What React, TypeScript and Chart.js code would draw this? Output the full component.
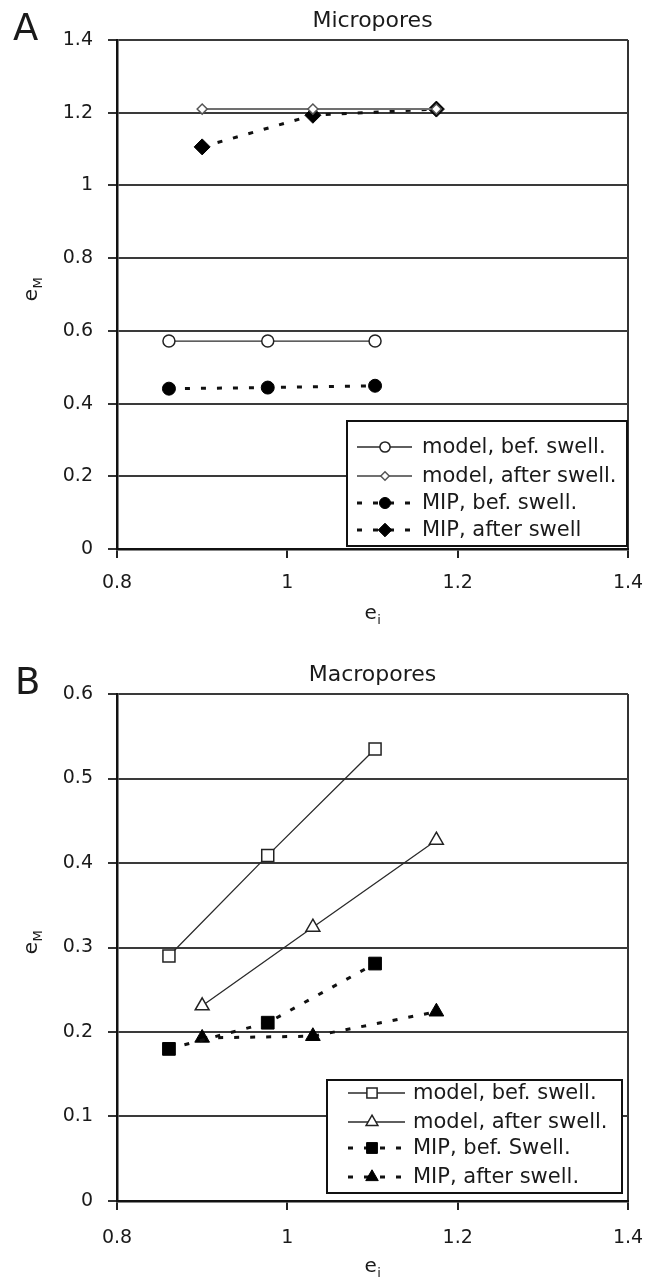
import React, { useEffect, useRef } from "react";
import { Chart, registerables } from "chart.js";
import { drawPoint } from "chart.js/helpers";

Chart.register(...registerables);

// ---------- data ----------
const xTicks = [0.8, 1, 1.2, 1.4];
const yTicksA = [0, 0.2, 0.4, 0.6, 0.8, 1, 1.2, 1.4];
const yTicksB = [0, 0.1, 0.2, 0.3, 0.4, 0.5, 0.6];

const eiBefore = [0.861, 0.977, 1.103];
const eiAfter = [0.9, 1.03, 1.175];

const microModelBefore = [0.572, 0.572, 0.572];
const microModelAfter = [1.21, 1.21, 1.21];
const microMipBefore = [0.441, 0.444, 0.449];
const microMipAfter = [1.106, 1.193, 1.21];

const macroModelBefore = [0.29, 0.409, 0.535];
const macroModelAfter = [0.231, 0.324, 0.427];
const macroMipBefore = [0.18, 0.211, 0.281];
const macroMipAfter = [0.193, 0.195, 0.224];

const labelsA = ["model, bef. swell.", "model, after swell.", "MIP, bef. swell.", "MIP, after swell"];
const labelsB = ["model, bef. swell.", "model, after swell.", "MIP, bef. Swell.", "MIP, after swell."];

// ---------- styling ----------
const FONT = "'DejaVu Sans', Verdana, sans-serif";
const W = 648;
const H = 641;

function pts(xs: number[], ys: number[]) {
  return xs.map((x, i) => ({ x, y: ys[i] }));
}

const solidLine = { borderColor: "#2a2a2a", borderWidth: 1.3, borderDash: [] as number[] };
const grayLine = { borderColor: "#707070", borderWidth: 2, borderDash: [] as number[] };
const dashLine = { borderColor: "#111", borderWidth: 3, borderDash: [5, 11] };

function marker(style: string, radius: number, fill: string, stroke: string, bw: number) {
  return {
    pointStyle: style,
    pointRadius: radius,
    pointHoverRadius: radius,
    pointBackgroundColor: fill,
    pointBorderColor: stroke,
    pointBorderWidth: bw,
  };
}

type Deco = {
  letter: string;
  letterX: number;
  letterY: number;
  title: string;
  titleY: number;
  xTitleY: number;
  yTitleX: number;
  legend: {
    left: number;
    top: number;
    width: number;
    height: number;
    rows: number[];
    lineFrom: number;
    lineTo: number;
    markerX: number;
    textX: number;
  };
};

function drawSub(ctx: CanvasRenderingContext2D, main: string, sub: string, cx: number, baseline: number) {
  ctx.textAlign = "left";
  ctx.textBaseline = "alphabetic";
  ctx.font = `20px ${FONT}`;
  const w1 = ctx.measureText(main).width;
  ctx.font = `13px ${FONT}`;
  const w2 = ctx.measureText(sub).width;
  const x0 = cx - (w1 + w2) / 2;
  ctx.font = `20px ${FONT}`;
  ctx.fillText(main, x0, baseline);
  ctx.font = `13px ${FONT}`;
  ctx.fillText(sub, x0 + w1 + 0.5, baseline + 5);
}

function decoPlugin(d: Deco) {
  return {
    id: "deco",
    afterDraw(chart: any) {
      const ctx: CanvasRenderingContext2D = chart.ctx;
      const ca = chart.chartArea;
      const cx = (ca.left + ca.right) / 2;
      ctx.save();
      ctx.fillStyle = "#1a1a1a";
      // panel letter
      ctx.font = `37px ${FONT}`;
      ctx.textAlign = "left";
      ctx.textBaseline = "alphabetic";
      ctx.fillText(d.letter, d.letterX, d.letterY);
      // title
      ctx.font = `22px ${FONT}`;
      ctx.textAlign = "center";
      ctx.textBaseline = "middle";
      ctx.fillText(d.title, cx, d.titleY);
      // axis titles
      drawSub(ctx, "e", "i", cx, d.xTitleY);
      ctx.save();
      ctx.translate(d.yTitleX, (ca.top + ca.bottom) / 2 - 5);
      ctx.rotate(-Math.PI / 2);
      drawSub(ctx, "e", "M", 0, 0);
      ctx.restore();

      // legend
      const L = d.legend;
      ctx.setLineDash([]);
      ctx.fillStyle = "#fff";
      ctx.fillRect(L.left, L.top, L.width, L.height);
      ctx.strokeStyle = "#111";
      ctx.lineWidth = 2;
      ctx.strokeRect(L.left, L.top, L.width, L.height);
      chart.data.datasets.forEach((ds: any, i: number) => {
        const y = L.top + L.rows[i];
        ctx.save();
        ctx.strokeStyle = ds.borderColor;
        ctx.lineWidth = ds.borderWidth;
        ctx.setLineDash(ds.borderDash || []);
        ctx.beginPath();
        ctx.moveTo(L.left + L.lineFrom, y);
        ctx.lineTo(L.left + L.lineTo, y);
        ctx.stroke();
        ctx.setLineDash([]);
        ctx.fillStyle = ds.pointBackgroundColor;
        ctx.strokeStyle = ds.pointBorderColor;
        ctx.lineWidth = ds.pointBorderWidth;
        drawPoint(ctx, {
          pointStyle: ds.pointStyle,
          radius: ds.pointRadius * 0.85,
          rotation: 0,
          borderWidth: ds.pointBorderWidth,
        } as any, L.left + L.markerX, y);
        ctx.restore();
        ctx.fillStyle = "#1a1a1a";
        ctx.font = `21px ${FONT}`;
        ctx.textAlign = "left";
        ctx.textBaseline = "middle";
        ctx.fillText(ds.label, L.left + L.textX, y + 1);
      });
      ctx.restore();
    },
  };
}

function makeScales(yTicks: number[], yMax: number, xAxisHeight: number, xPad: number) {
  return {
    x: {
      type: "linear",
      min: 0.8,
      max: 1.4,
      afterBuildTicks: (s: any) => {
        s.ticks = xTicks.map((v) => ({ value: v }));
      },
      afterFit: (s: any) => {
        s.height = xAxisHeight;
        s.paddingLeft = 0;
        s.paddingRight = 0;
      },
      grid: {
        color: (c: any) => (c.tick && Math.abs(c.tick.value - 1.4) < 1e-9 ? "#333" : "rgba(0,0,0,0)"),
        lineWidth: 2,
        tickColor: "#222",
        tickLength: 9,
        tickWidth: 2,
      },
      border: { display: true, color: "#111", width: 2.5 },
      ticks: {
        font: { family: FONT, size: 19 },
        color: "#1a1a1a",
        padding: xPad,
        maxRotation: 0,
        autoSkip: false,
        callback: (v: any) => String(v),
      },
    },
    y: {
      type: "linear",
      min: 0,
      max: yMax,
      afterBuildTicks: (s: any) => {
        s.ticks = yTicks.map((v) => ({ value: v }));
      },
      afterFit: (s: any) => {
        s.width = 117;
        s.paddingTop = 0;
        s.paddingBottom = 0;
      },
      grid: {
        color: "#3a3a3a",
        lineWidth: 2,
        tickColor: "#333",
        tickLength: 9,
        tickWidth: 2,
      },
      border: { display: true, color: "#111", width: 2.5 },
      ticks: {
        font: { family: FONT, size: 19 },
        color: "#1a1a1a",
        padding: 15,
        autoSkip: false,
        callback: (v: any) => String(v),
      },
    },
  };
}

function configA(): any {
  return {
    type: "line",
    data: {
      datasets: [
        { label: labelsA[0], data: pts(eiBefore, microModelBefore), ...solidLine, ...marker("circle", 6, "#fff", "#222", 1.5) },
        { label: labelsA[1], data: pts(eiAfter, microModelAfter), ...grayLine, ...marker("rectRot", 5, "#fff", "#555", 1.5) },
        { label: labelsA[2], data: pts(eiBefore, microMipBefore), ...dashLine, ...marker("circle", 6.5, "#000", "#000", 1) },
        { label: labelsA[3], data: pts(eiAfter, microMipAfter), ...dashLine, ...marker("rectRot", 8, "#000", "#000", 1) },
      ],
    },
    options: {
      responsive: false,
      animation: false,
      layout: { padding: { top: 40, right: 20, left: 0, bottom: 0 } },
      plugins: { legend: { display: false }, tooltip: { enabled: false }, title: { display: false } },
      scales: makeScales(yTicksA, 1.4, H - 549, 14),
    },
    plugins: [
      decoPlugin({
        letter: "A",
        letterX: 13,
        letterY: 40,
        title: "Micropores",
        titleY: 21,
        xTitleY: 619,
        yTitleX: 37,
        legend: { left: 347, top: 421, width: 280, height: 125, rows: [26, 55, 82, 109], lineFrom: 10, lineTo: 65, markerX: 38, textX: 75 },
      }),
    ],
  };
}

function configB(): any {
  return {
    type: "line",
    data: {
      datasets: [
        { label: labelsB[0], data: pts(eiBefore, macroModelBefore), ...solidLine, ...marker("rect", 8.5, "#fff", "#222", 1.5) },
        { label: labelsB[1], data: pts(eiAfter, macroModelAfter), ...solidLine, ...marker("triangle", 8, "#fff", "#222", 1.5) },
        { label: labelsB[2], data: pts(eiBefore, macroMipBefore), ...dashLine, ...marker("rect", 9, "#000", "#000", 1) },
        { label: labelsB[3], data: pts(eiAfter, macroMipAfter), ...dashLine, ...marker("triangle", 8.5, "#000", "#000", 1) },
      ],
    },
    options: {
      responsive: false,
      animation: false,
      layout: { padding: { top: 53, right: 20, left: 0, bottom: 0 } },
      plugins: { legend: { display: false }, tooltip: { enabled: false }, title: { display: false } },
      scales: makeScales(yTicksB, 0.6, H - 560, 17),
    },
    plugins: [
      decoPlugin({
        letter: "B",
        letterX: 15,
        letterY: 53,
        title: "Macropores",
        titleY: 34,
        xTitleY: 631,
        yTitleX: 37,
        legend: { left: 327, top: 439, width: 295, height: 113, rows: [13, 42, 68, 97], lineFrom: 21, lineTo: 78, markerX: 45, textX: 86 },
      }),
    ],
  };
}

function Panel({ make }: { make: () => any }) {
  const ref = useRef<HTMLCanvasElement | null>(null);
  useEffect(() => {
    if (!ref.current) return;
    const chart = new Chart(ref.current, make());
    return () => chart.destroy();
  }, [make]);
  return <canvas ref={ref} width={W} height={H} style={{ display: "block", width: W, height: H }} />;
}

export default function App() {
  return (
    <div style={{ position: "absolute", left: 0, top: 0, width: W, height: 2 * H, background: "#fff" }}>
      <Panel make={configA} />
      <Panel make={configB} />
    </div>
  );
}
